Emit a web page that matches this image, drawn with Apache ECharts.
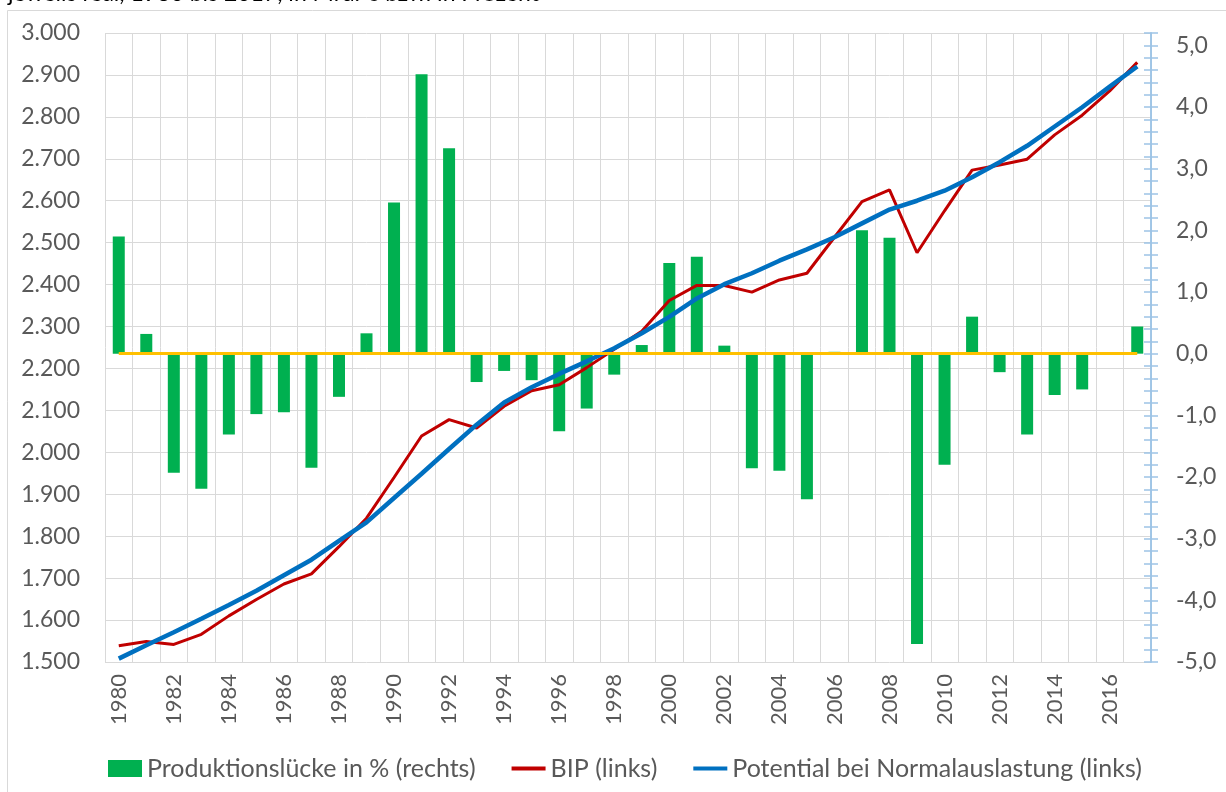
<!DOCTYPE html>
<html>
<head>
<meta charset="utf-8">
<title>BIP und Produktionslücke</title>
<script src="https://cdn.jsdelivr.net/npm/echarts@6/dist/echarts.min.js"></script>
<style>
    html, body { margin: 0; padding: 0; background: #fff; }
    #chart { width: 1226px; height: 792px; }
</style>
</head>
<body>
<div id="chart"></div>
<script>
// Jahre 1980 bis 2017
var years = ['1980','1981','1982','1983','1984','1985','1986','1987','1988','1989',
             '1990','1991','1992','1993','1994','1995','1996','1997','1998','1999',
             '2000','2001','2002','2003','2004','2005','2006','2007','2008','2009',
             '2010','2011','2012','2013','2014','2015','2016','2017'];

// Produktionslücke in % (rechte Achse)
var gap = [1.90, 0.32, -1.93, -2.19, -1.31, -0.98, -0.95, -1.85, -0.70, 0.33,
           2.45, 4.53, 3.33, -0.46, -0.28, -0.43, -1.26, -0.89, -0.34, 0.14,
           1.47, 1.57, 0.13, -1.86, -1.90, -2.36, 0.03, 2.00, 1.88, -4.71,
           -1.80, 0.60, -0.30, -1.31, -0.67, -0.58, 0.00, 0.44];

// BIP in Mrd. € (linke Achse)
var bip = [1539, 1549, 1542, 1566, 1610, 1649, 1686, 1710, 1775, 1843,
           1940, 2039, 2078, 2058, 2110, 2147, 2161, 2202, 2246, 2289,
           2362, 2398, 2398, 2382, 2411, 2427, 2513, 2598, 2626, 2476,
           2576, 2673, 2685, 2699, 2757, 2804, 2862, 2930];

// Potential bei Normalauslastung in Mrd. € (linke Achse)
var potential = [1508, 1540, 1571, 1603, 1636, 1670, 1707, 1744, 1789, 1833,
                 1891, 1949, 2008, 2066, 2119, 2155, 2187, 2217, 2248, 2284,
                 2323, 2367, 2401, 2427, 2457, 2484, 2513, 2546, 2579, 2600,
                 2624, 2656, 2692, 2731, 2777, 2823, 2872, 2920];

var font = 'Lato';
var labelColor = '#595959';
var gridColor = '#d9d9d9';
var rightAxisColor = '#9dc3e6';
var lineIcon = 'path://M0,0H34V4H0Z';

var chart = echarts.init(document.getElementById('chart'));

function leftLabel(v) {
    var s = String(v);
    return s.slice(0, s.length - 3) + '.' + s.slice(s.length - 3);
}

function rightLabel(v) {
    if (Math.abs(v - Math.round(v)) > 1e-6) return '';
    return Math.round(v).toFixed(1).replace('.', ',');
}

chart.setOption({
    animation: false,
    textStyle: { fontFamily: font },
    graphic: [
        {
            type: 'rect',
            shape: { x: 7.5, y: 10.5, width: 1240, height: 800 },
            style: { fill: 'none', stroke: gridColor, lineWidth: 1 },
            z: -1
        },
        {
            type: 'text',
            left: 8,
            top: -18,
            style: {
                text: 'jeweils real, 1980 bis 2017, in Mrd. € bzw. in Prozent',
                font: '23px Lato',
                fill: '#000'
            }
        }
    ],
    grid: { left: 105, right: 75, top: 33, bottom: 130 },
    legend: {
        left: 108,
        top: 756,
        padding: 0,
        itemWidth: 34,
        itemHeight: 17,
        itemGap: 36,
        textStyle: { fontSize: 25, color: labelColor, fontFamily: font },
        data: [
            { name: 'Produktionslücke in % (rechts)', icon: 'rect' },
            { name: 'BIP (links)', icon: lineIcon },
            { name: 'Potential bei Normalauslastung (links)', icon: lineIcon }
        ]
    },
    xAxis: {
        type: 'category',
        data: years,
        boundaryGap: true,
        axisLine: { show: false },
        axisTick: { show: false },
        axisLabel: { interval: 1, rotate: 90, fontSize: 22, color: labelColor, margin: 12 },
        splitLine: { show: true, interval: 0, lineStyle: { color: gridColor, width: 1 } }
    },
    yAxis: [
        {
            type: 'value',
            position: 'left',
            min: 1500,
            max: 3000,
            interval: 100,
            axisLine: { show: false },
            axisTick: { show: false },
            axisLabel: { formatter: leftLabel, fontSize: 23, color: labelColor, margin: 25 },
            splitLine: { show: true, lineStyle: { color: gridColor, width: 1 } }
        },
        {
            type: 'value',
            position: 'right',
            min: -5,
            max: 5.2,
            interval: 0.2,
            axisLine: { show: true, lineStyle: { color: rightAxisColor, width: 1.5 } },
            axisTick: { show: true, inside: false, length: 7, lineStyle: { color: rightAxisColor, width: 1.5 } },
            axisLabel: { formatter: rightLabel, fontSize: 23, color: labelColor, margin: 25 },
            splitLine: { show: false }
        },
        {
            // zweite Achse nur fuer die nach innen zeigenden Striche
            type: 'value',
            position: 'right',
            min: -5,
            max: 5.2,
            interval: 0.2,
            axisLine: { show: true, lineStyle: { color: rightAxisColor, width: 1.5 } },
            axisTick: { show: true, inside: true, length: 7, lineStyle: { color: rightAxisColor, width: 1.5 } },
            axisLabel: { show: false },
            splitLine: { show: false }
        }
    ],
    series: [
        {
            name: 'Produktionslücke in % (rechts)',
            type: 'bar',
            yAxisIndex: 1,
            data: gap,
            barWidth: 12,
            itemStyle: { color: '#00b050' },
            markLine: {
                silent: true,
                symbol: 'none',
                label: { show: false },
                lineStyle: { color: '#ffc000', width: 3, type: 'solid' },
                data: [[
                    { coord: [years[0], 0] },
                    { coord: [years[years.length - 1], 0] }
                ]]
            }
        },
        {
            name: 'BIP (links)',
            type: 'line',
            yAxisIndex: 0,
            data: bip,
            symbol: 'none',
            z: 3,
            itemStyle: { color: '#c00000' },
            lineStyle: { color: '#c00000', width: 3 }
        },
        {
            name: 'Potential bei Normalauslastung (links)',
            type: 'line',
            yAxisIndex: 0,
            data: potential,
            symbol: 'none',
            z: 4,
            itemStyle: { color: '#0070c0' },
            lineStyle: { color: '#0070c0', width: 4.5 }
        }
    ]
});
</script>
</body>
</html>
